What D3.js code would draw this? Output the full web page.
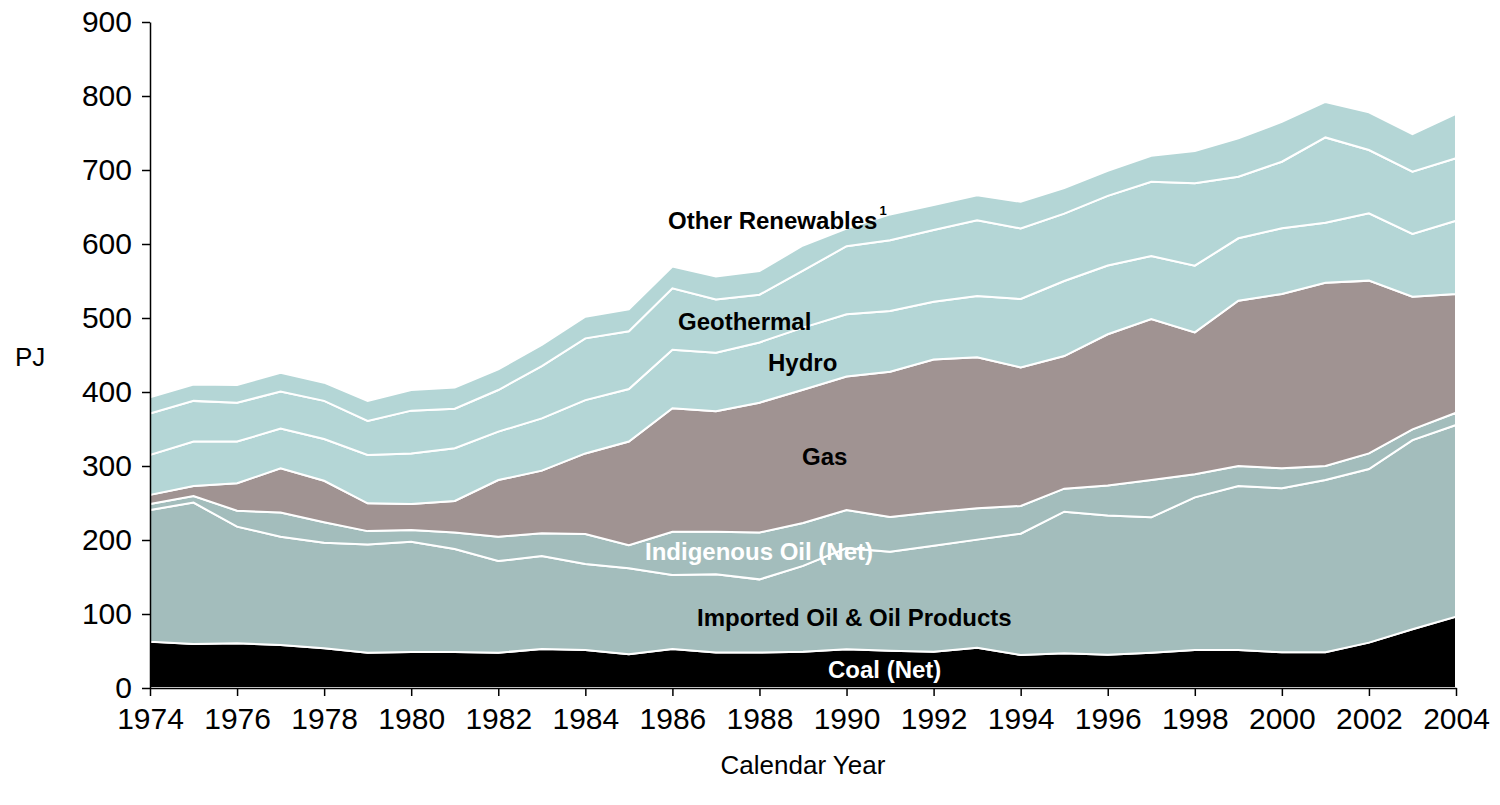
<!DOCTYPE html>
<html>
<head>
<meta charset="utf-8">
<script src="https://cdn.jsdelivr.net/npm/d3@7"></script>
<style>
body { margin: 0; background: #fff; }
text { font-family: Arial, "Liberation Sans", sans-serif; }
</style>
</head>
<body>
<div id="canvas_pj"></div>
<script>
// ----------------------------------------------------------
// DATA -----------------------------------------------------
// ----------------------------------------------------------
var years = d3.range(1974, 2005);

// PJ per calendar year, stacked bottom to top
var coal_net = [62.6, 59.5, 60.4, 58.0, 53.6, 47.7, 48.6, 48.6, 47.7, 52.7, 51.4, 45.5, 52.7, 48.0, 48.0, 49.0, 52.3, 50.5, 49.0, 54.5, 44.6, 46.8, 45.0, 47.7, 51.4, 51.4, 48.2, 48.2, 61.3, 79.3, 96.4];
var imported_oil = [177.9, 191.0, 157.6, 146.5, 142.8, 146.3, 149.1, 139.2, 123.9, 125.7, 116.2, 116.2, 100.0, 105.6, 98.8, 116.0, 136.7, 133.5, 143.3, 146.0, 163.9, 191.5, 188.0, 182.9, 206.2, 221.6, 221.6, 232.8, 234.7, 255.7, 259.0];
var indigenous_oil = [8.1, 9.0, 21.6, 32.5, 27.6, 18.0, 15.8, 22.2, 32.9, 30.6, 40.4, 31.3, 58.3, 57.4, 63.2, 58.0, 51.5, 47.0, 45.2, 42.3, 37.5, 31.1, 40.5, 50.4, 31.4, 27.0, 27.0, 19.0, 21.0, 14.5, 16.6];
var gas = [12.4, 13.5, 37.0, 60.0, 56.0, 37.5, 35.1, 42.7, 76.5, 84.7, 109.0, 140.0, 167.0, 163.0, 175.6, 180.0, 180.5, 196.5, 206.5, 204.0, 187.3, 179.2, 204.5, 217.6, 191.6, 223.4, 235.6, 247.7, 233.5, 179.3, 160.4];
var hydro = [54.0, 60.0, 56.4, 53.5, 56.5, 65.5, 68.4, 71.3, 65.4, 70.7, 72.0, 71.0, 79.0, 79.0, 81.4, 84.0, 84.0, 82.0, 78.0, 82.9, 92.4, 101.4, 93.0, 85.2, 90.1, 84.3, 88.8, 81.1, 90.9, 84.7, 99.1];
var geothermal = [56.0, 55.0, 52.6, 50.0, 51.5, 45.8, 57.8, 53.5, 56.3, 70.6, 83.5, 78.0, 83.0, 72.0, 64.5, 77.0, 92.0, 95.5, 97.0, 102.3, 95.3, 91.0, 94.0, 100.4, 111.3, 83.3, 90.0, 115.2, 85.6, 84.2, 84.3];
var other_renewables = [22.0, 22.0, 23.9, 25.5, 24.6, 27.0, 27.9, 28.5, 27.9, 28.5, 29.3, 29.7, 29.4, 31.0, 32.0, 34.0, 24.0, 35.0, 33.7, 34.0, 36.0, 34.5, 34.0, 35.1, 43.7, 51.8, 53.8, 48.0, 51.0, 50.9, 60.2];

var series_keys = ["coal", "imported", "indigenous", "gas", "hydro", "geothermal", "other"];
var series_values = [coal_net, imported_oil, indigenous_oil, gas, hydro, geothermal, other_renewables];

var y_ticks = [0, 100, 200, 300, 400, 500, 600, 700, 800, 900];
var x_ticks = d3.range(1974, 2005, 2);

// ----------------------------------------------------------
// STYLE ----------------------------------------------------
// ----------------------------------------------------------
var chart_pj = {
container_width: 1500,
container_height: 805,
left: 150,
right: 1456,
top: 22,
bottom: 688,
color_coal: "#000000",
color_oil: "#a3bdbc",
color_gas: "#a09392",
color_renew: "#b4d6d6",
color_stroke: "#ffffff",
font_tick: "30px",
font_title: "26px",
font_label: "24px"
};
var fill_pj = {
coal: chart_pj.color_coal,
imported: chart_pj.color_oil,
indigenous: chart_pj.color_oil,
gas: chart_pj.color_gas,
hydro: chart_pj.color_renew,
geothermal: chart_pj.color_renew,
other: chart_pj.color_renew
};

// ----------------------------------------------------------
// STRUCTURE ------------------------------------------------
// ----------------------------------------------------------
var svg_pj = d3.select("#canvas_pj").append("svg")
.attr("width", chart_pj.container_width)
.attr("height", chart_pj.container_height);

var area_group_pj = svg_pj.append("g").attr("class", "area_group");
var axis_group_pj = svg_pj.append("g").attr("class", "axis_group");
var text_group_pj = svg_pj.append("g").attr("class", "text_group");

// ----------------------------------------------------------
// SCALES ---------------------------------------------------
// ----------------------------------------------------------
var xScale_pj = d3.scaleLinear()
.domain([1974, 2004])
.range([chart_pj.left, chart_pj.right]);

var yScale_pj = d3.scaleLinear()
.domain([0, 900])
.range([chart_pj.bottom, chart_pj.top]);

// build table rows for the stack
var table_pj = years.map(function(yr, i) {
var row = { year: yr };
series_keys.forEach(function(k, j) { row[k] = series_values[j][i]; });
return row;
});

var stacked_pj = d3.stack().keys(series_keys)(table_pj);

// ----------------------------------------------------------
// GFX ------------------------------------------------------
// ----------------------------------------------------------
var area_pj = d3.area()
.x(function(d) { return xScale_pj(d.data.year); })
.y0(function(d) { return yScale_pj(d[0]); })
.y1(function(d) { return yScale_pj(d[1]); });

area_group_pj.selectAll("path")
.data(stacked_pj)
.enter()
.append("path")
.attr("d", area_pj)
.style("fill", function(d) { return fill_pj[d.key]; })
.style("stroke", chart_pj.color_stroke)
.style("stroke-width", 2)
.style("stroke-linejoin", "miter");

// ----------------------------------------------------------
// AXES -----------------------------------------------------
// ----------------------------------------------------------
axis_group_pj.append("g")
.attr("class", "x_axis")
.attr("transform", "translate(0," + chart_pj.bottom + ")")
.call(d3.axisBottom(xScale_pj)
.tickValues(x_ticks)
.tickFormat(d3.format("d"))
.tickSize(8)
.tickSizeOuter(0)
.tickPadding(12))
.call(function(g) {
g.select(".domain").attr("stroke", "#000").attr("stroke-width", 1.5);
g.selectAll(".tick line").attr("stroke", "#000").attr("stroke-width", 1.5);
g.selectAll(".tick text").style("font-size", chart_pj.font_tick).attr("fill", "#000");
});

axis_group_pj.append("g")
.attr("class", "y_axis")
.attr("transform", "translate(" + chart_pj.left + ",0)")
.call(d3.axisLeft(yScale_pj)
.tickValues(y_ticks)
.tickSize(8)
.tickSizeOuter(0)
.tickPadding(10))
.call(function(g) {
g.select(".domain").attr("stroke", "#000").attr("stroke-width", 1.5);
g.selectAll(".tick line").attr("stroke", "#000").attr("stroke-width", 1.5);
g.selectAll(".tick text").style("font-size", chart_pj.font_tick).attr("fill", "#000");
});

// axis titles
text_group_pj.append("text")
.attr("x", 15)
.attr("y", 366)
.style("font-size", chart_pj.font_title)
.text("PJ");

text_group_pj.append("text")
.attr("x", (chart_pj.left + chart_pj.right) / 2)
.attr("y", 774)
.attr("text-anchor", "middle")
.style("font-size", chart_pj.font_title)
.text("Calendar Year");

// ----------------------------------------------------------
// TEXT -----------------------------------------------------
// ----------------------------------------------------------
var labels_pj = [
{ text: "Geothermal", x: 678, y: 330, color: "#000" },
{ text: "Hydro", x: 768, y: 371, color: "#000" },
{ text: "Gas", x: 802, y: 465, color: "#000" },
{ text: "Indigenous Oil (Net)", x: 645, y: 560, color: "#fff" },
{ text: "Imported Oil & Oil Products", x: 697, y: 626, color: "#000" },
{ text: "Coal (Net)", x: 828, y: 678, color: "#fff" }
];

text_group_pj.selectAll(".series_label")
.data(labels_pj)
.enter()
.append("text")
.attr("class", "series_label")
.attr("x", function(d) { return d.x; })
.attr("y", function(d) { return d.y; })
.style("font-size", chart_pj.font_label)
.style("font-weight", "bold")
.style("fill", function(d) { return d.color; })
.text(function(d) { return d.text; });

// "Other Renewables" with footnote mark
var other_label_pj = text_group_pj.append("text")
.attr("x", 668)
.attr("y", 229)
.style("font-size", chart_pj.font_label)
.style("font-weight", "bold")
.text("Other Renewables");
other_label_pj.append("tspan")
.attr("dx", 2)
.attr("dy", -14)
.style("font-size", "13px")
.text("1");
</script>
</body>
</html>
